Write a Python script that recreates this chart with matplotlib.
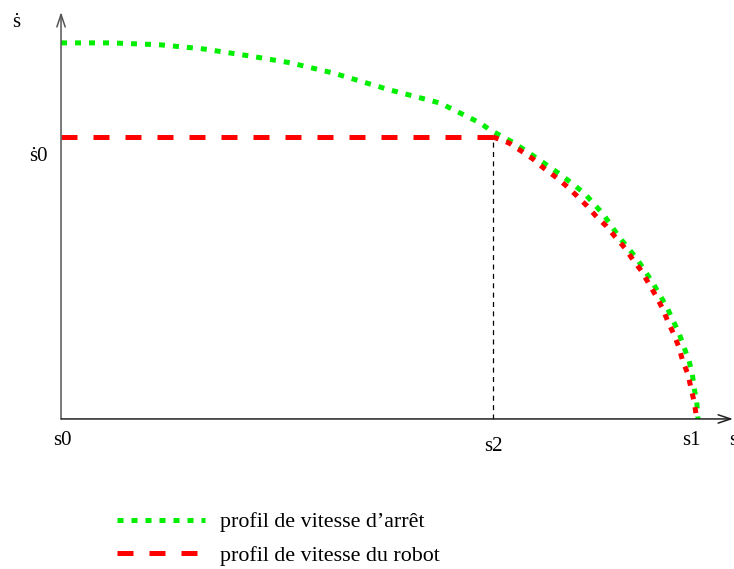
import matplotlib.pyplot as plt
from matplotlib.lines import Line2D

# stopping speed profile (green), s normalised so that s1 = 1
s_stop = [0.0, 0.077, 0.155, 0.223, 0.297, 0.360, 0.427, 0.516, 0.595, 0.658,
          0.673, 0.711, 0.749, 0.785, 0.821, 0.851, 0.876, 0.904, 0.929, 0.951,
          0.961, 0.970, 0.978, 0.986, 0.991, 0.994, 0.998, 1.0]
v_stop = [1.0, 1.0, 0.995, 0.984, 0.965, 0.947, 0.920, 0.875, 0.840, 0.787,
          0.769, 0.734, 0.691, 0.649, 0.601, 0.545, 0.484, 0.426, 0.362, 0.298,
          0.261, 0.229, 0.191, 0.154, 0.120, 0.082, 0.045, 0.0]

# robot speed profile (red): constant at sdot0 up to s2, then braking
sdot0 = 0.75
s2 = 0.678
s_brake = [0.678, 0.703, 0.722, 0.741, 0.757, 0.776, 0.793, 0.810, 0.826, 0.841,
           0.856, 0.870, 0.885, 0.898, 0.911, 0.922, 0.934, 0.944, 0.953, 0.961,
           0.970, 0.976, 0.984, 0.989, 0.994, 0.998]
v_brake = [0.75, 0.734, 0.713, 0.691, 0.668, 0.644, 0.620, 0.593, 0.566, 0.537,
           0.513, 0.484, 0.455, 0.423, 0.394, 0.362, 0.327, 0.295, 0.258, 0.229,
           0.191, 0.154, 0.120, 0.082, 0.045, 0.0]

labels = ["profil de vitesse d\u2019arr\u00eat", "profil de vitesse du robot"]

serif = ['Liberation Serif', 'DejaVu Serif']
green = '#00ee00'
red = '#ff0000'
green_ls = (0, (1.2, 1.6))
red_ls = (0, (3.2, 3.2))

fig = plt.figure(figsize=(7.34, 5.69), dpi=100)
ax = fig.add_axes([0, 0, 1, 1])
ax.set_xlim(-0.0958, 1.0565)
ax.set_ylim(-0.399, 1.114)
ax.axis('off')

# axes with open arrow heads
ax.annotate('', xy=(0, 1.082), xytext=(0, 0),
            arrowprops=dict(arrowstyle='->,head_length=0.9,head_width=0.3',
                            color='#555555', lw=1.1, shrinkA=0, shrinkB=0))
ax.annotate('', xy=(1.055, 0), xytext=(0, 0),
            arrowprops=dict(arrowstyle='->,head_length=0.9,head_width=0.3',
                            color='#222222', lw=1.1, shrinkA=0, shrinkB=0))

# s2 marker
ax.plot([s2, s2], [0, sdot0], color='black', lw=0.9, linestyle=(0, (4, 3.5)))

# curves
ax.plot(s_stop, v_stop, color=green, lw=3.6, linestyle=green_ls)
ax.plot([0, s2], [sdot0, sdot0], color=red, lw=3.6, linestyle=red_ls)
ax.plot(s_brake, v_brake, color=red, lw=3.6, linestyle=green_ls)

# axis labels
fs = 15
ax.text(-0.077, 1.043, '\u1e61', family=serif, fontsize=fs, va='baseline')
ax.text(-0.050, 0.686, '\u1e610', family=serif, fontsize=fs, va='baseline')
ax.text(-0.0126, -0.069, 's0', family=serif, fontsize=fs, va='baseline')
ax.text(0.664, -0.085, 's2', family=serif, fontsize=fs, va='baseline')
ax.text(0.975, -0.069, 's1', family=serif, fontsize=fs, va='baseline')
ax.text(1.049, -0.069, 's', family=serif, fontsize=fs, va='baseline')

handles = [Line2D([], [], color=green, lw=3.6, linestyle=green_ls),
           Line2D([], [], color=red, lw=3.6, linestyle=red_ls)]
fig.legend(handles, labels, loc='upper left', bbox_to_anchor=(117 / 734, 1 - 512 / 569),
           frameon=False, borderpad=0, borderaxespad=0, handlelength=4.0,
           handletextpad=0.7, labelspacing=0.6,
           prop={'family': serif, 'size': 15.8})

fig.savefig('out.png', dpi=100)
